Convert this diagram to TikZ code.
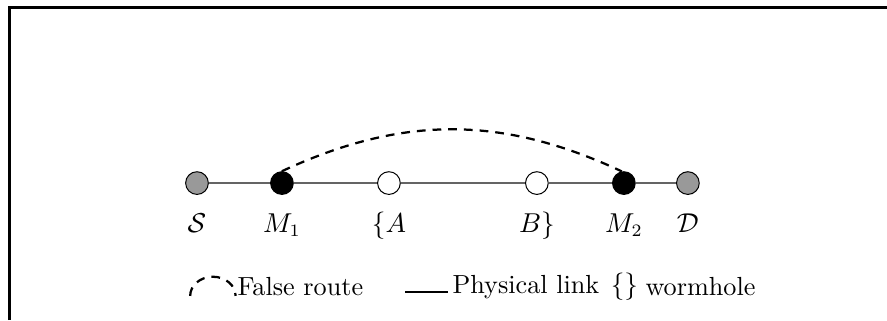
\documentclass[tikz,border=0pt]{standalone}
\usepackage{xcolor}
\usepackage{tikz}
\usetikzlibrary{positioning}
\usepackage{amsmath}
\definecolor{nodegray}{RGB}{153, 153, 153}
\definecolor{linkgray}{RGB}{100, 100, 100}

\begin{document}
\begin{tikzpicture}[font=\fontsize{10.5}{12.6}\selectfont,
        hop/.style={circle, draw, minimum size=0.32cm, inner sep=0pt},
        tag/.style={text height=1.6ex, text depth=0.5ex, inner sep=1pt}]
        \useasboundingbox (0,0) rectangle (12.5,4.51);
        \draw[line width=1.2pt] (0.127,0) |- (12.6,4.41);

        \node[hop, fill=nodegray] (S) at (2.776,1.93) {};
        \node[hop, fill=black] (M1) at (3.973,1.93) {};
        \node[hop, fill=white] (A) at (5.481,1.93) {};
        \node[hop, fill=white] (B) at (7.566,1.93) {};
        \node[hop, fill=black] (M2) at (8.792,1.93) {};
        \node[hop, fill=nodegray] (D) at (9.694,1.93) {};

        \node[tag, below=0.24cm of S] (sLab) {$\mathcal{S}$};
        \node[tag, below=0.24cm of M1] (m1Lab) {$M_1$};
        \node[tag, below=0.24cm of A] (aLab) {$\{A$};
        \node[tag, below=0.24cm of B] (bLab) {$B\}$};
        \node[tag, below=0.24cm of M2] (m2Lab) {$M_2$};
        \node[tag, below=0.24cm of D] (dLab) {$\mathcal{D}$};

        \draw[linkgray, line width=0.5pt] (S) -- (M1) -- (A) -- (B) -- (M2) -- (D);
        \draw[dash pattern=on 3.5pt off 2.8pt, line width=0.9pt] (M1.north) to[bend left=25] (M2.100);

        % legend
        \coordinate (arcL) at (2.68,0.34);
        \draw[dash pattern=on 3.5pt off 2.8pt, line width=0.9pt] (arcL) arc[start angle=180, end angle=0, x radius=0.32, y radius=0.27];
        \node[anchor=west, inner sep=0pt] (fRoute) at (3.34,0.465) {False route};
        \coordinate (linkL) at (5.71,0.395);
        \coordinate (linkR) at (6.31,0.395);
        \draw[line width=0.8pt] (linkL) -- (linkR);
        \node[anchor=west, inner sep=0pt] (pLink) at (6.37,0.465) {Physical link};
        \node[anchor=west, inner sep=0pt] (brace) at (8.6,0.465) {$\{\}$};
        \node[anchor=west, inner sep=0pt] (worm) at (9.09,0.465) {wormhole};
    \end{tikzpicture}
\end{document}
